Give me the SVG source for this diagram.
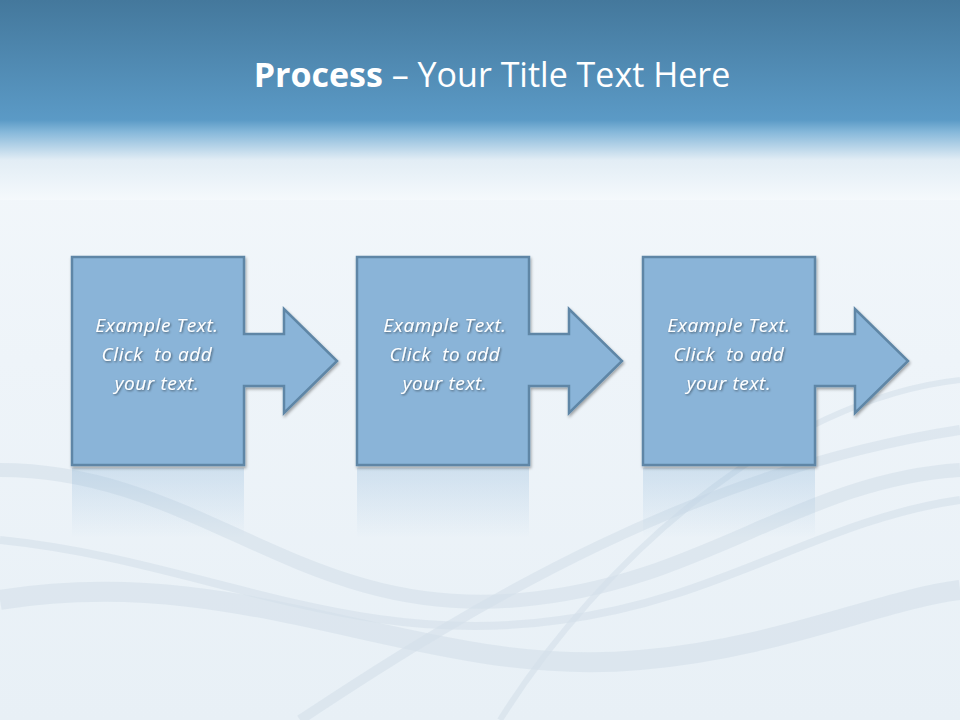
<svg xmlns="http://www.w3.org/2000/svg" width="960" height="720" viewBox="0 0 960 720">
<defs>
<linearGradient id="top" x1="0" y1="0" x2="0" y2="1">
<stop offset="0" stop-color="#44789c"/><stop offset="0.6" stop-color="#5b9ac6"/><stop offset="0.66" stop-color="#86b8da"/><stop offset="0.8" stop-color="#e2edf5"/><stop offset="1" stop-color="#f5f9fc"/>
</linearGradient>
<linearGradient id="bot" x1="0" y1="0" x2="0" y2="1">
<stop offset="0" stop-color="#f5f9fc"/><stop offset="0.5" stop-color="#eef4f9"/><stop offset="1" stop-color="#e8f0f6"/>
</linearGradient>
<linearGradient id="refl" x1="0" y1="0" x2="0" y2="1">
<stop offset="0" stop-color="#8ab4d8" stop-opacity="0.3"/><stop offset="1" stop-color="#8ab4d8" stop-opacity="0"/>
</linearGradient>
<filter id="sh" x="-10%" y="-10%" width="130%" height="130%"><feDropShadow dx="1" dy="2" stdDeviation="1.5" flood-color="#000" flood-opacity="0.35"/></filter>
<filter id="ts"><feDropShadow dx="1" dy="1" stdDeviation="1" flood-color="#000" flood-opacity="0.5"/></filter>
<path id="shape" d="M0,0 H172 V77 H212 V52 L265,104 L212,156 V129 H172 V208 H0 Z"/>
</defs>
<style>
.box{fill:#8ab4d8;stroke:#5e86a6;stroke-width:2.5;filter:url(#sh)}
.t{font-family:"Open Sans","Liberation Sans",sans-serif;font-style:italic;font-size:19px;letter-spacing:0.6px;fill:#fff;text-anchor:middle;filter:url(#ts)}
.wave{fill:none;stroke:#d3dfea;opacity:0.6}
</style>
<rect width="960" height="720" fill="url(#bot)"/>
<rect width="960" height="200" fill="url(#top)"/>
<g id="waves">
<path class="wave" stroke-width="14" d="M0,470 C200,470 300,620 520,600 C700,585 800,480 960,470"/>
<path class="wave" stroke-width="8" d="M0,540 C200,560 350,650 560,620 C720,600 820,520 960,500"/>
<path class="wave" stroke-width="20" opacity="0.35" d="M0,600 C250,560 420,680 640,660 C780,648 880,600 960,590"/>
<path class="wave" stroke-width="6" opacity="0.45" d="M500,720 C600,560 780,400 960,380"/>
<path class="wave" stroke-width="10" opacity="0.35" d="M300,720 C480,600 700,470 960,430"/>
</g>
<text x="492" y="87" font-family="'Open Sans','Liberation Sans',sans-serif" font-size="34" fill="#fff" text-anchor="middle"><tspan font-weight="bold">Process</tspan> – Your Title Text Here</text>
<g id="reflections">
<rect x="72" y="468" width="172" height="70" fill="url(#refl)"/>
<rect x="357" y="468" width="172" height="70" fill="url(#refl)"/>
<rect x="643" y="468" width="172" height="70" fill="url(#refl)"/>
</g>
<g id="node1" transform="translate(72,257)"><use href="#shape" class="box"/><text class="t" x="85" y="75">Example Text.</text><text class="t" x="85" y="104" xml:space="preserve">Click  to add</text><text class="t" x="85" y="133">your text.</text></g>
<g id="node2" transform="translate(357,257)"><use href="#shape" class="box"/><text class="t" x="88" y="75">Example Text.</text><text class="t" x="88" y="104" xml:space="preserve">Click  to add</text><text class="t" x="88" y="133">your text.</text></g>
<g id="node3" transform="translate(643,257)"><use href="#shape" class="box"/><text class="t" x="86" y="75">Example Text.</text><text class="t" x="86" y="104" xml:space="preserve">Click  to add</text><text class="t" x="86" y="133">your text.</text></g>
<g id="connectors"/>
</svg>
